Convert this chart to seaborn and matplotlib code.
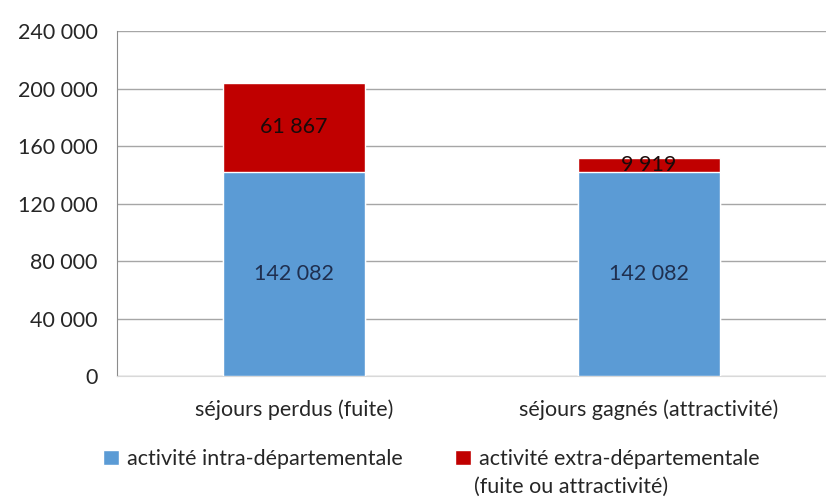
import numpy as np
import pandas as pd
import seaborn as sns
import matplotlib.pyplot as plt
from matplotlib.patches import Patch
from matplotlib.ticker import MultipleLocator, FuncFormatter

categories = ["séjours perdus (fuite)", "séjours gagnés (attractivité)"]
intra = [142082, 142082]
extra = [61867, 9919]
series_names = ["activité intra-départementale", "activité extra-départementale"]
series_extra_line = "(fuite ou attractivité)"

df = pd.DataFrame({"categorie": categories, "intra": intra, "extra": extra})
df["total"] = df["intra"] + df["extra"]

sns.set_style("white")
plt.rcParams["font.family"] = ["Lato", "DejaVu Sans"]

fig = plt.figure(figsize=(8.26, 5.01), dpi=100)
ax = fig.add_axes([0.1416, 0.2495, 0.8584, 0.6885])

blue = "#5B9BD5"
red = "#C00000"
txt = "#262626"
fs = 15.5

sns.barplot(data=df, x="categorie", y="total", color=red, width=0.4,
            saturation=1, ax=ax, zorder=2)
sns.barplot(data=df, x="categorie", y="intra", color=blue, width=0.4,
            saturation=1, ax=ax, zorder=3)

fmt = lambda v: f"{v:,.0f}".replace(",", " ")

# étiquettes de valeurs
red_bars = ax.containers[0]
blue_bars = ax.containers[1]
ax.bar_label(blue_bars, labels=[fmt(v) for v in intra], label_type="center",
             color="#1F2F4F", fontsize=fs, zorder=4)
for bar, v in zip(red_bars, extra):
    x = bar.get_x() + bar.get_width() / 2
    y = bar.get_height() - v / 2
    ax.text(x, y, fmt(v), ha="center", va="center", fontsize=fs,
            color="#1A0A0A", zorder=5)

ax.set_ylim(0, 240000)
ax.set_xlim(-0.5, 1.5)
ax.yaxis.set_major_locator(MultipleLocator(40000))
ax.yaxis.set_major_formatter(FuncFormatter(lambda v, p: fmt(v)))
ax.grid(axis="y", color="#A6A6A6", linewidth=1.0, zorder=0)
ax.set_axisbelow(True)

for s in ["top", "right"]:
    ax.spines[s].set_visible(False)
ax.spines["left"].set_color("#8C8C8C")
ax.spines["bottom"].set_color("#D9D9D9")

ax.set_xticks([-0.5, 0.5, 1.5], minor=True)
ax.tick_params(axis="x", which="major", length=0, pad=17, labelsize=fs, labelcolor=txt)
ax.tick_params(axis="x", which="minor", length=7, color="#8C8C8C")
ax.tick_params(axis="y", length=8, color="#8C8C8C", labelsize=fs, labelcolor=txt, pad=6)
ax.set_xlabel("")
ax.set_ylabel("")

# légende
kw = dict(loc="center left", frameon=False, fontsize=fs, handlelength=0.75,
          handleheight=0.75, handletextpad=0.35, borderpad=0, borderaxespad=0,
          labelcolor=txt)
fig.legend([Patch(facecolor=blue)], [series_names[0]],
           bbox_to_anchor=(103 / 826, 1 - 459 / 501), **kw)
fig.legend([Patch(facecolor=red)], [series_names[1]],
           bbox_to_anchor=(455 / 826, 1 - 459 / 501), **kw)
fig.text(474 / 826, 1 - 487 / 501, series_extra_line, fontsize=fs,
         color=txt, va="center", ha="left")

fig.savefig("out.png", dpi=100, facecolor="white")
